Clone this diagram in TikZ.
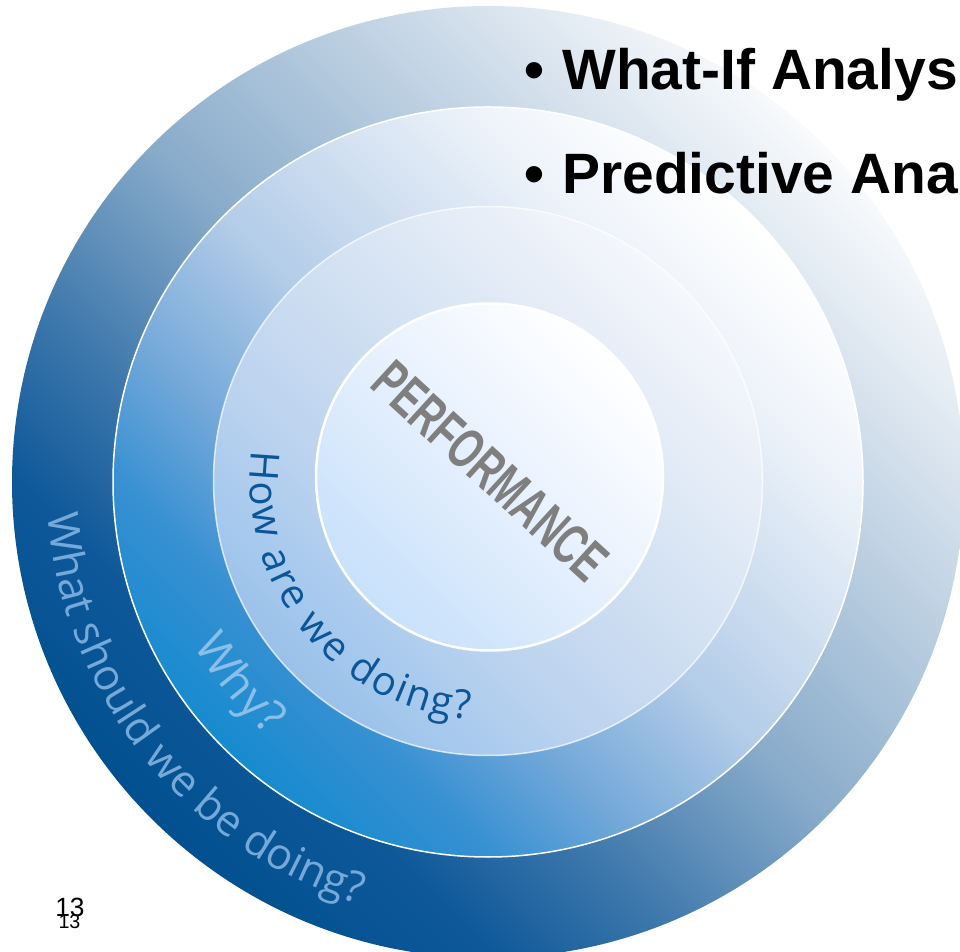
\documentclass[tikz,border=0pt]{standalone}
\usepackage{fontspec}
\usepackage{graphicx}
\setmainfont{Liberation Sans}
\newfontfamily\ringfont{Open Sans}
\usetikzlibrary{decorations.text}

\definecolor{outerA}{HTML}{02508F}
\definecolor{outerB}{HTML}{0E5899}
\definecolor{outerF}{HTML}{3E78AC}
\definecolor{outerC}{HTML}{88ABCA}
\definecolor{outerD}{HTML}{D8E3EE}
\definecolor{outerE}{HTML}{F8FAFC}
\definecolor{midA}{HTML}{178BCF}
\definecolor{midB}{HTML}{3790D2}
\definecolor{midF}{HTML}{73A8D9}
\definecolor{midC}{HTML}{B3CCE8}
\definecolor{midD}{HTML}{EFF4FA}
\definecolor{midE}{HTML}{FFFFFF}
\definecolor{innA}{HTML}{9AC1EA}
\definecolor{innB}{HTML}{AACBEE}
\definecolor{innF}{HTML}{BCD3EF}
\definecolor{innC}{HTML}{CCDDF1}
\definecolor{innD}{HTML}{E9EFF8}
\definecolor{innE}{HTML}{F5F8FC}
\definecolor{coreA}{HTML}{C9E1FC}
\definecolor{coreB}{HTML}{D0E5FC}
\definecolor{coreF}{HTML}{DAEAFC}
\definecolor{coreC}{HTML}{E6F0FD}
\definecolor{coreD}{HTML}{F8FBFF}
\definecolor{coreE}{HTML}{FFFFFF}
\definecolor{perfgray}{HTML}{7F7F7F}
\definecolor{howblue}{HTML}{0A5699}
\definecolor{whyblue}{HTML}{8BBFE8}
\definecolor{whatblue}{HTML}{74A9DA}

\pgfdeclareverticalshading{outershade}{100bp}{color(0bp)=(outerA); color(25bp)=(outerA); color(32.5bp)=(outerB); color(40bp)=(outerF); color(50bp)=(outerC); color(67.5bp)=(outerD); color(75bp)=(outerE); color(100bp)=(outerE)}
\pgfdeclareverticalshading{midshade}{100bp}{color(0bp)=(midA); color(25bp)=(midA); color(32.5bp)=(midB); color(40bp)=(midF); color(50bp)=(midC); color(67.5bp)=(midD); color(75bp)=(midE); color(100bp)=(midE)}
\pgfdeclareverticalshading{innshade}{100bp}{color(0bp)=(innA); color(25bp)=(innA); color(32.5bp)=(innB); color(40bp)=(innF); color(50bp)=(innC); color(67.5bp)=(innD); color(75bp)=(innE); color(100bp)=(innE)}
\pgfdeclareverticalshading{coreshade}{100bp}{color(0bp)=(coreA); color(25bp)=(coreA); color(32.5bp)=(coreB); color(40bp)=(coreF); color(50bp)=(coreC); color(67.5bp)=(coreD); color(75bp)=(coreE); color(100bp)=(coreE)}

\newcommand\titlefont{\bfseries\fontsize{32.4pt}{38pt}\selectfont}
\newcommand\howfont{\ringfont\fontsize{22.8pt}{27pt}\selectfont}
\newcommand\whyfont{\ringfont\fontsize{26pt}{30pt}\selectfont}
\newcommand\whatfont{\ringfont\fontsize{24.5pt}{29pt}\selectfont}

\begin{document}
\begin{tikzpicture}[ring edge/.style={draw=white, line width=0.03cm}]
\useasboundingbox (0,0) rectangle (19.2,19.02);
\clip (0,0) rectangle (19.2,19.02);
%circulos
  \shade[shading=outershade, shading angle=-45] (9.76,9.38) circle (9.52);
  \shadedraw[shading=midshade, shading angle=-45, ring edge] (9.76,9.38) circle (7.50);
  \shadedraw[shading=innshade, shading angle=-45, ring edge, draw opacity=0.7] (9.76,9.40) circle (5.49);
  \shadedraw[shading=coreshade, shading angle=-45, ring edge, line width=0.05cm] (9.79,9.48) circle (3.47);

%textos curvos
  \path[decorate, decoration={text along path, text align={fit to path}, text color=whatblue,
    text={|\whatfont|What should we be doing?}}]
    (9.76,9.38) ++(184.2:8.82) arc[start angle=184.2, end angle=253, radius=8.82];
  \path[decorate, decoration={text along path, text align={fit to path}, text color=whyblue,
    text={|\whyfont|Why?}}]
    (9.76,9.38) ++(209:6.72) arc[start angle=209, end angle=229, radius=6.72];
  \path[decorate, decoration={text along path, text align={fit to path}, text color=howblue,
    text={|\howfont|How are we doing?}}]
    (9.76,9.38) ++(172.5:4.76) arc[start angle=172.5, end angle=265.5, radius=4.76];

%rotulos
  \node[rotate=-42.4, inner sep=0, text=perfgray, font=\bfseries\fontsize{32.4pt}{36pt}\selectfont]
    (perf) at (9.81,9.60) {\scalebox{0.66}[1]{PERFORMANCE}};
  \node[anchor=base, inner sep=0, font=\titlefont] (bulletA) at (10.69,17.22) {•};
  \node[anchor=base west, inner sep=0, font=\titlefont] (whatif) at (11.24,17.22) {What-If Analys};
  \node[anchor=base, inner sep=0, font=\titlefont] (bulletB) at (10.69,15.14) {•};
  \node[anchor=base west, inner sep=0, font=\titlefont] (predictive) at (11.24,15.14) {Predictive Ana};
  \node[inner sep=0, font=\fontsize{15pt}{18pt}\selectfont] (pageA) at (1.40,0.87) {13};
  \node[inner sep=0, font=\fontsize{11.2pt}{13pt}\selectfont] (pageB) at (1.39,0.58) {13};
\end{tikzpicture}
\end{document}
